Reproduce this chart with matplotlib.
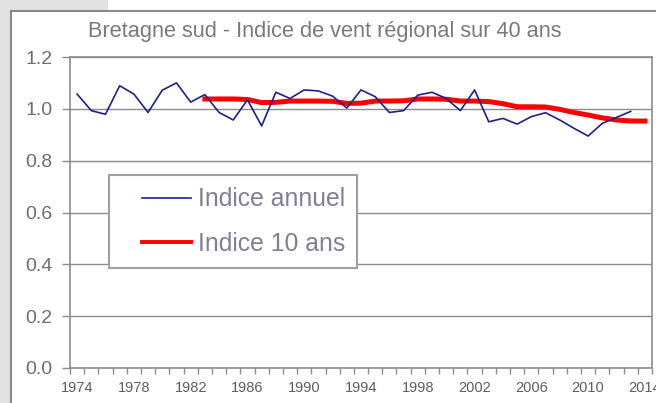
import numpy as np
import matplotlib
matplotlib.use('Agg')
import matplotlib.pyplot as plt
from matplotlib.patches import Rectangle
from matplotlib.lines import Line2D
from matplotlib.legend_handler import HandlerLine2D

plt.rcParams['font.family'] = ['Liberation Sans', 'DejaVu Sans']

# Annual wind index (1974-2013)
years_annual = list(range(1974, 2014))
annual = [1.057, 0.993, 0.979, 1.089, 1.057, 0.986, 1.072, 1.100, 1.026, 1.055,
          0.986, 0.957, 1.035, 0.934, 1.064, 1.040, 1.073, 1.069, 1.049, 1.003,
          1.073, 1.047, 0.986, 0.993, 1.053, 1.064, 1.040, 0.993, 1.073, 0.950,
          0.963, 0.941, 0.970, 0.985, 0.957, 0.925, 0.895, 0.944, 0.967, 0.990]

# 10 year index (1983-2014)
years_10 = list(range(1983, 2015))
index_10 = [1.038, 1.038, 1.038, 1.036, 1.024, 1.025, 1.030, 1.030, 1.030, 1.029,
            1.021, 1.022, 1.030, 1.030, 1.031, 1.038, 1.038, 1.037, 1.030, 1.030,
            1.028, 1.020, 1.008, 1.008, 1.007, 0.998, 0.986, 0.976, 0.965, 0.957,
            0.953, 0.953]

label_years = list(range(1974, 2015, 4))
y_ticks = [0.0, 0.2, 0.4, 0.6, 0.8, 1.0, 1.2]

title = 'Bretagne sud - Indice de vent régional sur 40 ans'
labels = ['Indice annuel', 'Indice 10 ans']

# Basic plot settings
W, H = 656, 403
grey_bg = '#e1e1e1'
frame_col = '#8a8a8a'
grid_col = '#8c8c8c'
text_col = '#6e6e6e'


class ShortHandle(HandlerLine2D):
    # legend line drawn only on the right part of the handle box
    def get_xdata(self, legend, xdescent, ydescent, width, height, fontsize):
        xdata = np.array([-xdescent + width * 0.3, -xdescent + width])
        return xdata, xdata


fig = plt.figure(figsize=(W / 100, H / 100), dpi=100, facecolor='white')

# outer frame like the original screenshot
fig.patches.append(Rectangle((0, 1 - 10 / H), 108 / W, 10 / H, transform=fig.transFigure,
                             facecolor=grey_bg, edgecolor='none', zorder=0))
fig.patches.append(Rectangle((0, 0), 11 / W, 1, transform=fig.transFigure,
                             facecolor=grey_bg, edgecolor='none', zorder=0))
fig.lines.append(Line2D([11 / W, 11 / W], [0, 1 - 10.5 / H], transform=fig.transFigure,
                        color=frame_col, lw=1.5))
fig.lines.append(Line2D([11 / W, 1], [1 - 10.5 / H, 1 - 10.5 / H], transform=fig.transFigure,
                        color=frame_col, lw=1.5))

fig.text(88 / W, 1 - 31 / H, title, ha='left', va='center', fontsize=15.7, color='#7a7a7a')

ax = fig.add_axes([70 / W, 35 / H, 582 / W, 311 / H])
ax.plot(years_annual, annual, color='#1f1f8f', lw=1.2, label=labels[0], zorder=3)
ax.plot(years_10, index_10, color='#ff0000', lw=3.6, label=labels[1], zorder=2)

ax.set_xlim(1973.5, 2014.5)
ax.set_ylim(0.0, 1.2)
ax.set_yticks(y_ticks)
ax.set_yticklabels(['%.1f' % v for v in y_ticks])
ax.set_xticks(label_years)
ax.set_xticklabels([str(y) for y in label_years])
ax.set_xticks(np.arange(1973.5, 2015, 1.0), minor=True)

ax.grid(axis='y', color=grid_col, lw=1.0, zorder=1)
for s in ax.spines.values():
    s.set_color(grid_col)
    s.set_linewidth(1.2)

ax.tick_params(axis='y', direction='out', length=6, width=1, color=grid_col,
               pad=6.5, labelsize=14, labelcolor=text_col)
ax.tick_params(axis='x', which='major', length=0, pad=9, labelsize=10.5, labelcolor='#5e5e5e')
ax.tick_params(axis='x', which='minor', direction='out', length=4, width=1, color=grid_col)

leg = ax.legend(loc='upper left', bbox_to_anchor=((109 - 70) / 582, (368 - 175) / 311),
                fontsize=17.8, frameon=True, fancybox=False, framealpha=1,
                borderpad=0.5, handlelength=2.8, handletextpad=0.28, labelspacing=0.82,
                borderaxespad=0, handler_map={Line2D: ShortHandle()})
leg.get_frame().set_edgecolor('#a0a0a0')
leg.get_frame().set_linewidth(1.5)
for t in leg.get_texts():
    t.set_color('#7f7f96')
# thinner red sample in the legend, as in the original
leg.get_lines()[1].set_linewidth(2.8)

fig.savefig('out.png', dpi=100)
plt.close()
